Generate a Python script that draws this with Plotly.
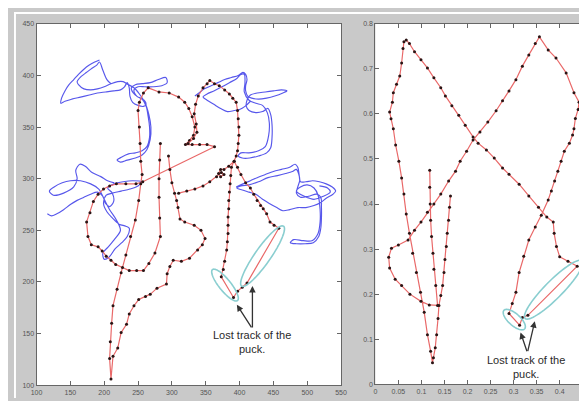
import numpy as np
import plotly.graph_objects as go

# ---------------- data: left panel ----------------
red_left_a = [
    (283, 334), (282, 318), (281, 300), (281, 282), (282, 262), (283, 244), (275, 228), (266, 218),
    (258, 211), (248, 211), (237, 211), (227, 214), (217, 217), (210, 221), (203, 225), (197, 230),
    (191, 234), (181, 236), (176, 244), (174, 258), (179, 267), (184, 278), (191, 285), (199, 290),
    (208, 293), (218, 295), (232, 295), (247, 295), (257, 297),
    (363, 331), (352, 333), (341, 333), (330, 333), (320, 333), (326, 337), (332, 342), (334, 350),
    (330, 360), (325, 368), (319, 374), (310, 379), (296, 383), (281, 384), (265, 388), (258, 383),
    (252, 374), (250, 366), (252, 350), (253, 334), (254, 317), (256, 304), (254, 295), (251, 279),
    (246, 260), (239, 244), (232, 226), (225, 209), (219, 193), (213, 177), (211, 160), (209, 142),
    (208, 126), (210, 106),
    (213, 128), (220, 136), (225, 151), (233, 159), (237, 169), (244, 177), (251, 183), (261, 186),
    (268, 188), (278, 194), (292, 198), (293, 208), (297, 215), (302, 221), (314, 220), (326, 223),
    (338, 231), (345, 236), (349, 242), (343, 250), (333, 255), (319, 258), (312, 261), (309, 272),
    (307, 279), (304, 286), (300, 296), (297, 309), (295, 322),
]
red_left_b = [
    (324, 334), (332, 339), (337, 345), (336, 353), (333, 363), (335, 372), (339, 380), (346, 388),
    (352, 392), (356, 395), (363, 392), (370, 390), (378, 386), (385, 382), (390, 378), (395, 374),
    (397, 366), (398, 358), (399, 350), (399, 342), (398, 334), (397, 327), (395, 322), (392, 317),
    (388, 311), (387, 303), (386, 295), (385, 287), (384, 279), (384, 271), (383, 263), (383, 255),
    (383, 247), (382, 239), (381, 231), (378, 220), (376, 212), (373, 205), (391, 185), (397, 191),
    (404, 195), (411, 199), (458, 252), (451, 255), (445, 258), (440, 266), (435, 271), (431, 274),
    (426, 279), (421, 285), (416, 291), (409, 296), (402, 304), (397, 311), (392, 317), (384, 312),
    (377, 309), (372, 309), (369, 305), (372, 302), (377, 304), (373, 306), (366, 302), (356, 297),
    (346, 293), (334, 290), (322, 288), (310, 286),
]
blue_c1 = [
    (193, 415), (186, 413), (178, 410), (170, 406), (162, 401), (155, 396), (148, 391), (142, 385),
    (137, 378), (136, 373), (142, 375), (152, 377), (165, 379), (178, 381), (190, 383), (202, 384),
    (214, 385), (224, 386), (230, 389), (234, 393), (237, 388), (238, 380), (242, 374), (250, 371),
    (258, 370), (262, 372), (259, 376), (250, 379), (243, 383), (240, 388), (246, 391), (256, 392),
    (268, 393), (280, 396), (291, 398), (293, 393), (285, 390), (272, 389), (260, 389), (250, 389),
    (244, 386), (248, 380), (256, 377), (262, 370), (265, 360), (267, 350), (267, 340), (263, 331),
    (256, 327), (246, 325), (236, 324), (226, 321), (219, 318), (224, 316), (234, 318), (246, 320),
    (256, 323), (263, 328), (268, 338), (269, 350), (266, 362), (260, 374), (252, 382), (244, 388),
    (236, 391), (228, 394), (220, 394), (210, 392), (200, 389), (190, 387), (180, 386), (170, 387),
    (162, 391), (160, 394), (166, 399), (174, 403), (182, 407), (189, 410), (193, 413), (198, 405),
    (204, 396), (210, 392),
]
blue_c2 = [
    (334, 380), (340, 383), (348, 387), (358, 390), (368, 393), (378, 396), (388, 398), (398, 400),
    (405, 403), (409, 401), (411, 396), (409, 390), (409, 385), (412, 380), (418, 378), (428, 377),
    (440, 378), (452, 380), (464, 383), (470, 385), (462, 386), (450, 385), (438, 384), (426, 383),
    (416, 381), (411, 376), (410, 370), (414, 366), (424, 364), (434, 365), (442, 368), (446, 362),
    (448, 352), (448, 340), (446, 330), (440, 325), (428, 322), (415, 320), (404, 320), (398, 322),
    (402, 325), (414, 325), (428, 327), (438, 331), (443, 342), (444, 354), (441, 364), (434, 371),
    (424, 373), (414, 376), (407, 384), (408, 393), (407, 401), (402, 401), (396, 397), (385, 393),
    (374, 389), (362, 385), (352, 382), (346, 379), (352, 376), (362, 372), (372, 368), (382, 365),
    (392, 366), (400, 367), (408, 370), (416, 375),
]
blue_c3 = [
    (116, 266), (122, 264), (130, 266), (140, 270), (150, 275), (160, 279), (170, 282), (180, 285),
    (190, 287), (198, 283), (202, 276), (208, 273), (214, 278), (212, 286), (205, 291), (215, 295),
    (228, 297), (242, 298), (255, 297), (250, 293), (238, 290), (225, 288), (212, 286), (203, 284),
    (199, 276), (204, 268), (212, 262), (222, 256), (232, 254), (237, 252), (234, 244), (226, 238),
    (216, 232), (207, 224), (200, 222), (198, 228), (206, 234), (216, 242), (224, 250), (218, 260),
    (208, 270), (200, 280), (192, 290), (180, 295), (165, 298), (150, 298), (138, 296), (126, 292),
    (119, 288), (125, 284), (140, 286), (155, 292), (160, 300), (158, 308), (164, 314), (172, 312),
    (182, 306), (195, 302), (205, 298), (215, 296),
]
blue_c4 = [
    (395, 292), (405, 295), (416, 298), (426, 301), (438, 304), (450, 307), (462, 309), (474, 311),
    (482, 314), (486, 311), (488, 304), (490, 297), (498, 297), (508, 298), (518, 297), (528, 295),
    (537, 292), (542, 288), (538, 285), (528, 281), (520, 277), (510, 274), (498, 272), (486, 272),
    (474, 270), (464, 269), (455, 272), (444, 276), (434, 280), (424, 285), (414, 287), (404, 289),
    (396, 291), (402, 293), (414, 294), (428, 297), (442, 301), (456, 303), (468, 305), (478, 307),
    (484, 309), (489, 299), (486, 292), (484, 286), (490, 282), (502, 283), (514, 285), (520, 282),
    (521, 272), (521, 262), (520, 252), (517, 244), (509, 238), (497, 237), (484, 237), (475, 238),
    (480, 241), (494, 240), (507, 240), (516, 247), (519, 258), (519, 270), (516, 284), (510, 291),
    (500, 294), (490, 292), (484, 288), (496, 283), (510, 280), (524, 283), (534, 287), (530, 291),
    (518, 293),
]

# ---------------- data: right panel ----------------
red_right = [
    (0.163, 0.418), (0.161, 0.393), (0.159, 0.364), (0.156, 0.335), (0.154, 0.306), (0.151, 0.277),
    (0.149, 0.248), (0.146, 0.219), (0.142, 0.197), (0.138, 0.175), (0.136, 0.146), (0.133, 0.110),
    (0.130, 0.081), (0.126, 0.059), (0.124, 0.048),
    (0.120, 0.073), (0.113, 0.110), (0.106, 0.160), (0.098, 0.204), (0.089, 0.248), (0.081, 0.291),
    (0.074, 0.335), (0.067, 0.378), (0.062, 0.422), (0.057, 0.458), (0.051, 0.495), (0.044, 0.531),
    (0.039, 0.567), (0.034, 0.589), (0.031, 0.604), (0.037, 0.626), (0.039, 0.647), (0.046, 0.666),
    (0.053, 0.684), (0.057, 0.713), (0.060, 0.745), (0.062, 0.760), (0.067, 0.764), (0.074, 0.756),
    (0.085, 0.738), (0.099, 0.720), (0.113, 0.702), (0.127, 0.680), (0.142, 0.658), (0.152, 0.640),
    (0.166, 0.618), (0.181, 0.597), (0.195, 0.575), (0.212, 0.549), (0.223, 0.535), (0.241, 0.520),
    (0.258, 0.502), (0.276, 0.480), (0.290, 0.466), (0.312, 0.444), (0.333, 0.418), (0.354, 0.393),
    (0.372, 0.371), (0.386, 0.360), (0.388, 0.335), (0.393, 0.306), (0.400, 0.283), (0.418, 0.273),
    (0.438, 0.262),
    (0.331, 0.153), (0.319, 0.148), (0.313, 0.131), (0.290, 0.157),
    (0.297, 0.179), (0.305, 0.204), (0.312, 0.248), (0.322, 0.284), (0.333, 0.320), (0.347, 0.349),
    (0.360, 0.375), (0.375, 0.409), (0.382, 0.429), (0.389, 0.451), (0.396, 0.473), (0.403, 0.495),
    (0.410, 0.517), (0.421, 0.535), (0.428, 0.553), (0.431, 0.567), (0.434, 0.590), (0.440, 0.610),
    (0.442, 0.626), (0.431, 0.647), (0.414, 0.691), (0.392, 0.724), (0.375, 0.742), (0.356, 0.771),
    (0.347, 0.756), (0.333, 0.731), (0.319, 0.706), (0.305, 0.676), (0.290, 0.651), (0.276, 0.629),
    (0.262, 0.607), (0.244, 0.582), (0.227, 0.560), (0.212, 0.542), (0.198, 0.517), (0.184, 0.495),
    (0.174, 0.473), (0.159, 0.451), (0.142, 0.422), (0.127, 0.400), (0.113, 0.382), (0.099, 0.360),
    (0.085, 0.342), (0.071, 0.320), (0.050, 0.309), (0.035, 0.302), (0.029, 0.282), (0.031, 0.258),
    (0.043, 0.233), (0.057, 0.219), (0.075, 0.200), (0.099, 0.184), (0.117, 0.176), (0.135, 0.175),
    (0.131, 0.219), (0.127, 0.255), (0.125, 0.291), (0.122, 0.328), (0.120, 0.364), (0.119, 0.400),
    (0.118, 0.437), (0.118, 0.475),
]

left_x_ticks = [100, 150, 200, 250, 300, 350, 400, 450, 500, 550]
left_y_ticks = [100, 150, 200, 250, 300, 350, 400, 450]
right_x_ticks = [0, 0.05, 0.1, 0.15, 0.2, 0.25, 0.3, 0.35, 0.4]
right_x_labels = ["0", "0.05", "0.1", "0.15", "0.2", "0.25", "0.3", "0.35", "0.4"]
right_y_ticks = [0, 0.1, 0.2, 0.3, 0.4, 0.5, 0.6, 0.7, 0.8]
right_y_labels = ["0", "0.1", "0.2", "0.3", "0.4", "0.5", "0.6", "0.7", "0.8"]
note_text = "Lost track of the<br>puck."

# ---------------- layout geometry (page body adds an 8px offset) ----------------
OFF = 8
W, H = 587 - OFF, 401 - OFF
L_X0, L_X1 = 31 - OFF, 342 - OFF
R_X0, R_X1 = 377 - OFF, 587 - OFF
TOP, BOT_L, BOT_R = 20 - OFF, 388 - OFF, 387 - OFF
L_XR, L_YR = (100, 550), (100, 450)
R_XR, R_YR = (0, (R_X1 - R_X0) / 470.6), (0, 0.8)
STRIP = 10 - OFF

RED = "rgb(233,105,105)"
DOT = "#2a1414"
BLUE = "rgba(50,50,230,0.82)"
TEAL = "rgb(138,206,208)"


def xy(seq):
    return [p[0] for p in seq], [p[1] for p in seq]


fig = go.Figure()
for c in (blue_c1, blue_c2, blue_c3, blue_c4):
    x, y = xy(c)
    fig.add_trace(go.Scatter(x=x, y=y, mode="lines", xaxis="x", yaxis="y",
                             line=dict(color=BLUE, width=1.15, shape="spline", smoothing=0.9),
                             hoverinfo="skip"))
for seg in (red_left_a, red_left_b):
    x, y = xy(seg)
    fig.add_trace(go.Scatter(x=x, y=y, mode="lines+markers", xaxis="x", yaxis="y",
                             line=dict(color=RED, width=1.2),
                             marker=dict(color=DOT, size=3), hoverinfo="skip"))
x, y = xy(red_right)
fig.add_trace(go.Scatter(x=x, y=y, mode="lines+markers", xaxis="x2", yaxis="y2",
                         line=dict(color=RED, width=1.2),
                         marker=dict(color=DOT, size=3), hoverinfo="skip"))


def ellipse_path(p0, p1, half_px, sx, sy, n=72):
    X0, Y0, X1, Y1 = p0[0] * sx, p0[1] * sy, p1[0] * sx, p1[1] * sy
    cx, cy = (X0 + X1) / 2, (Y0 + Y1) / 2
    dx, dy = X1 - X0, Y1 - Y0
    ln = np.hypot(dx, dy)
    ux, uy = dx / ln, dy / ln
    vx, vy = -uy, ux
    t = np.linspace(0, 2 * np.pi, n)
    ex = (cx + ln / 2 * np.cos(t) * ux + half_px * np.sin(t) * vx) / sx
    ey = (cy + ln / 2 * np.cos(t) * uy + half_px * np.sin(t) * vy) / sy
    return "M " + " L ".join(f"{a:.5f},{b:.5f}" for a, b in zip(ex, ey)) + " Z"


lsx = (L_X1 - L_X0) / (L_XR[1] - L_XR[0])
lsy = (BOT_L - TOP) / (L_YR[1] - L_YR[0])
rsx = (R_X1 - R_X0) / (R_XR[1] - R_XR[0])
rsy = (BOT_R - TOP) / (R_YR[1] - R_YR[0])

shapes = [
    dict(type="rect", xref="paper", yref="paper", x0=0, x1=1, y0=1 - STRIP / H, y1=1,
         fillcolor="white", line=dict(width=0), layer="below"),
    dict(type="rect", xref="paper", yref="paper", x0=0, x1=STRIP / W, y0=0, y1=1,
         fillcolor="white", line=dict(width=0), layer="below"),
]
ellipses = [
    ("x", "y", (360, 212), (397, 182), 6, lsx, lsy),
    ("x", "y", (403, 196), (465, 254), 8, lsx, lsy),
    ("x2", "y2", (0.279, 0.164), (0.324, 0.123), 6, rsx, rsy),
    ("x2", "y2", (0.325, 0.146), (0.449, 0.274), 9, rsx, rsy),
]
for xr, yr, p0, p1, hw, sx, sy in ellipses:
    shapes.append(dict(type="path", xref=xr, yref=yr, path=ellipse_path(p0, p1, hw, sx, sy),
                       line=dict(color=TEAL, width=1.6)))

FONT = "Liberation Sans, Arial, sans-serif"
annotations = [
    dict(x=419, y=142, xref="x", yref="y", text=note_text, showarrow=False,
         font=dict(family=FONT, size=11, color="#2a2a2a")),
    dict(x=0.3266, y=0.039, xref="x2", yref="y2", text=note_text, showarrow=False,
         font=dict(family=FONT, size=11, color="#2a2a2a")),
]
for xr, yr, head, tail in [("x", "y", (396, 178), (419, 154.5)),
                           ("x", "y", (419, 196), (419, 154.5)),
                           ("x2", "y2", (0.315, 0.115), (0.330, 0.070)),
                           ("x2", "y2", (0.346, 0.140), (0.330, 0.070))]:
    annotations.append(dict(x=head[0], y=head[1], ax=tail[0], ay=tail[1], xref=xr, yref=yr,
                            axref=xr, ayref=yr, text="", showarrow=True, arrowhead=2,
                            arrowsize=1, arrowwidth=1.3, arrowcolor="#333", standoff=0))

axis_common = dict(showgrid=False, zeroline=False, showline=True, linecolor="#666", linewidth=1,
                   ticks="inside", ticklen=4, tickcolor="#666", tickwidth=1,
                   tickfont=dict(family=FONT, size=7, color="#555"))

fig.update_layout(
    width=W, height=H, margin=dict(l=0, r=0, t=0, b=0),
    paper_bgcolor="#c9c9c9", plot_bgcolor="white", showlegend=False,
    xaxis=dict(domain=[L_X0 / W, L_X1 / W], range=list(L_XR), tickvals=left_x_ticks,
               anchor="y", mirror="ticks", **axis_common),
    yaxis=dict(domain=[(H - BOT_L) / H, (H - TOP) / H], range=list(L_YR), tickvals=left_y_ticks,
               anchor="x", mirror="ticks", **axis_common),
    xaxis2=dict(domain=[R_X0 / W, 1.0], range=list(R_XR), tickvals=right_x_ticks,
                ticktext=right_x_labels, anchor="y2", mirror="ticks", **axis_common),
    yaxis2=dict(domain=[(H - BOT_R) / H, (H - TOP) / H], range=list(R_YR), tickvals=right_y_ticks,
                ticktext=right_y_labels, anchor="x2", **axis_common),
    shapes=shapes, annotations=annotations,
)

fig.write_html("out.html", config={"displayModeBar": False})
